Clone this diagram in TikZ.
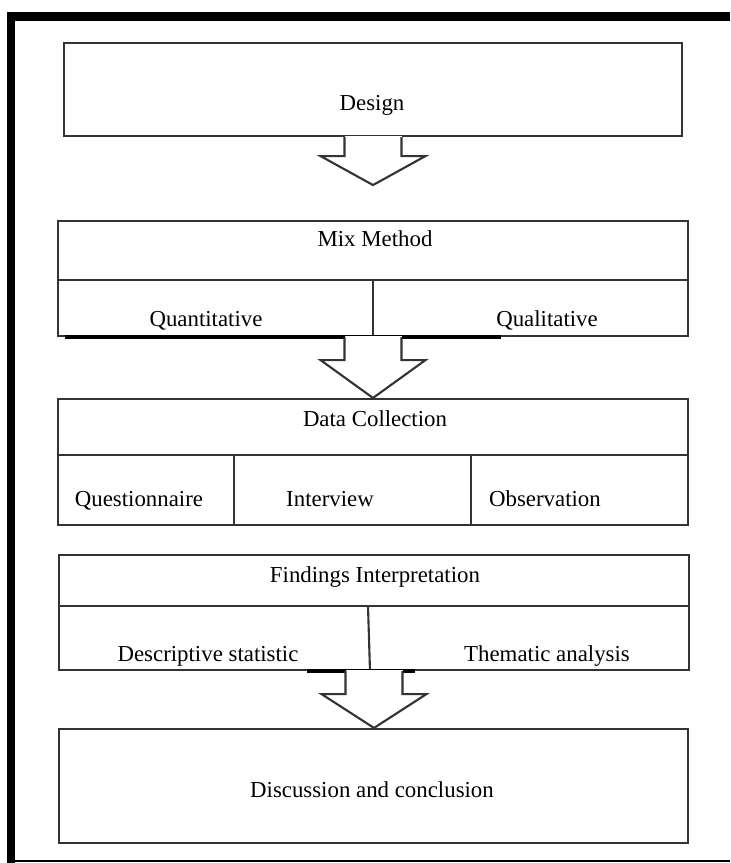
\documentclass[tikz,border=0pt]{standalone}
\usepackage{fontspec}
\setmainfont{Liberation Serif}
\usetikzlibrary{calc, positioning}

% open block arrow hanging under a box: #1 box, #2 tip, #3 shaft length
\newcommand{\blockdown}[3]{%
  \fill[white] ($(#1.south)+(-0.285,0.015)$) rectangle ($(#1.south)+(0.285,-#3)$);
  \draw[arrowline] ($(#1.south)+(-0.285,0)$) -- ++(0,-#3) -- ++(-0.24,0) -- (#2)
    -- ($(#1.south)+(0.525,-#3)$) -- ++(-0.24,0) -- ++(0,#3);
}

\begin{document}
\begin{tikzpicture}[
    boxline/.style={draw=black!80, line width=0.6pt},
    arrowline/.style={draw=black!80, line width=0.6pt, fill=white},
    frameline/.style={draw=black},
    every node/.style={font=\fontsize{6.5}{8}\selectfont, inner sep=0pt}
  ]
  \useasboundingbox (0,0) rectangle (7.30,-8.63);

  % outer frame
  \draw[frameline, line width=0.09cm] (0.07,-0.165) -- (7.30,-0.165);
  \draw[frameline, line width=0.08cm] (0.11,-0.12) -- (0.11,-8.63);
  \draw[frameline, line width=0.6pt] (0.11,-8.61) -- (7.30,-8.61);

  \begin{scope}[every node/.style={boxline, rectangle, inner sep=0pt}]
    \node[minimum width=6.18cm, minimum height=0.93cm] (design) at (3.73,-0.895) {};
    \node[minimum width=6.30cm, minimum height=1.15cm] (mix) at (3.73,-2.785) {};
    \node[minimum width=6.30cm, minimum height=1.26cm] (data) at (3.73,-4.62) {};
    \node[minimum width=6.30cm, minimum height=1.15cm] (find) at (3.74,-6.125) {};
    \node[minimum width=6.29cm, minimum height=1.14cm] (disc) at (3.735,-7.86) {};
  \end{scope}

  % inner divisions
  \begin{scope}[every path/.style={boxline}]
    \draw (mix.west |- 0,-2.80) -- (mix.east |- 0,-2.80);
    \draw (mix.south |- 0,-2.80) -- (mix.south);
    \draw (data.west |- 0,-4.55) -- (data.east |- 0,-4.55);
    \draw (2.34,-4.55) -- (2.34,0 |- data.south);
    \draw (4.71,-4.55) -- (4.71,0 |- data.south);
    \draw (find.west |- 0,-6.06) -- (find.east |- 0,-6.06);
    \draw (3.68,-6.06) -- (3.70,0 |- find.south);
  \end{scope}
  \draw[black, line width=1pt] (0.65,0 |- mix.south) -- (5.01,0 |- mix.south);
  \draw[black, line width=1pt] (3.07,0 |- find.south) -- (4.15,0 |- find.south);

  % labels
  \begin{scope}[every node/.append style={anchor=base}]
    \node (designtxt) at (3.72,-1.10) {Design};
    \node (mixtxt) at (3.75,-2.46) {Mix Method};
    \node (quant) at (2.06,-3.26) {Quantitative};
    \node (qual) at (5.47,-3.26) {Qualitative};
    \node (datatxt) at (3.75,-4.26) {Data Collection};
    \node (quest) at (1.39,-5.06) {Questionnaire};
    \node (inter) at (3.30,-5.06) {Interview};
    \node (obs) at (5.45,-5.06) {Observation};
    \node (findtxt) at (3.75,-5.82) {Findings Interpretation};
    \node (desc) at (2.08,-6.61) {Descriptive statistic};
    \node (them) at (5.47,-6.61) {Thematic analysis};
    \node (disctxt) at (3.72,-7.97) {Discussion and conclusion};
  \end{scope}

  % arrows
  \coordinate (tip1) at ($(design.south)+(0,-0.48)$);
  \blockdown{design}{tip1}{0.19}
  \blockdown{mix}{mix.south |- data.north}{0.23}
  \blockdown{find}{find.south |- disc.north}{0.23}
\end{tikzpicture}
\end{document}
